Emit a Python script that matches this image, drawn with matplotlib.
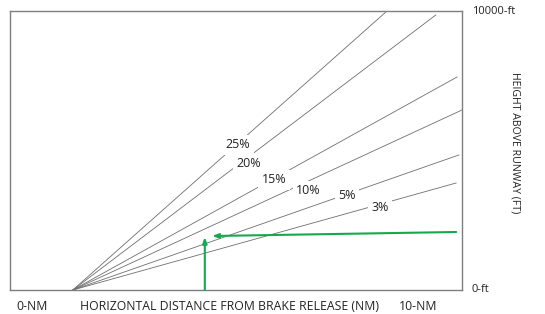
import matplotlib
matplotlib.use("Agg")
import matplotlib.pyplot as plt

# climb gradient lines (schematic), x in % of chart width, y in ft
grades = ["25%", "20%", "15%", "10%", "5%", "3%"]
start_x = 13.9
end_x = [83.4, 94.2, 98.9, 100.0, 99.3, 98.7]
end_y = [10000, 9857, 7634, 6452, 4839, 3835]
label_x = [50.4, 52.9, 58.4, 66.0, 74.6, 81.9]
label_y = [5200, 4550, 3950, 3550, 3400, 2960]

# green arrows
vert_x = 43.1
vert_y = [0, 1900]
horiz_x = [98.7, 44.7]
horiz_y = [2079, 1935]

x_labels = ["0-NM", "HORIZONTAL DISTANCE FROM BRAKE RELEASE (NM)", "10-NM"]
x_label_pos = [4.9, 48.5, 90.3]
y_labels = ["10000-ft", "0-ft"]

plt.rcParams['font.family'] = ['Open Sans', 'DejaVu Sans']

fig = plt.figure(figsize=(5.45, 3.14), dpi=100)
ax = fig.add_axes([10/545, 1 - 290/314, 452/545, 279/314])
ax.set_xlim(0, 100)
ax.set_ylim(0, 10000)
ax.set_xticks([])
ax.set_yticks([])
for s in ax.spines.values():
    s.set_color("#7f7f7f")
    s.set_linewidth(1.0)

for g, ex, ey, lx, ly in zip(grades, end_x, end_y, label_x, label_y):
    ax.plot([start_x, ex], [0, ey], color="#6e6e6e", lw=0.6, zorder=1)
    ax.text(lx, ly, g, fontsize=9, color="#222222", ha="center", va="center",
            bbox=dict(facecolor="white", edgecolor="none", pad=2.5), zorder=2)

green = "#17a84f"
ax.annotate("", xy=(vert_x, vert_y[1]), xytext=(vert_x, vert_y[0]),
            arrowprops=dict(arrowstyle="-|>,head_length=0.35,head_width=0.13",
                            color=green, lw=1.5, shrinkA=0, shrinkB=0), zorder=3)
ax.annotate("", xy=(horiz_x[1], horiz_y[1]), xytext=(horiz_x[0], horiz_y[0]),
            arrowprops=dict(arrowstyle="-|>,head_length=0.35,head_width=0.13",
                            color=green, lw=1.5, shrinkA=0, shrinkB=0), zorder=3)

for t, xp in zip(x_labels, x_label_pos):
    ax.text(xp, -600, t, fontsize=8.8, color="#222222", ha="center", va="center")

ax.text(102.2, 10000, y_labels[0], fontsize=8, color="#222222", ha="left", va="center")
ax.text(102.2, 0, y_labels[1], fontsize=8, color="#222222", ha="left", va="center")
ax.text(111.7, 5300, "HEIGHT ABOVE RUNWAY (FT)", fontsize=7.6, color="#222222",
        rotation=-90, ha="center", va="center")

fig.savefig("out.png", dpi=100)
